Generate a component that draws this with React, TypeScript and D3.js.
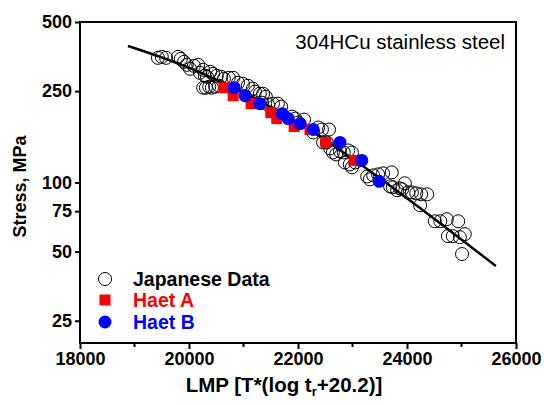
import React, { useEffect, useRef } from 'react';
import * as d3 from 'd3';

// Japanese data (open circles)
const japaneseLmp = [
  19430, 19500, 19580, 19800, 19850, 19910, 19960, 20020, 20090, 20170,
  20200, 20260, 20290, 20330, 20390, 20440, 20510, 20590, 20640, 20730,
  20810, 20260, 20310, 20370, 20420, 20480, 20550, 20900, 20990, 21080,
  21170, 21210, 21300, 21360, 21410, 21170, 21340, 21450, 21540, 21630,
  21690, 21890, 21950, 22000, 22110, 22280, 22370, 22440, 22570, 22460,
  22530, 22590, 22640, 22700, 22770, 22840, 22920, 22990, 22860, 22950,
  23050, 22990, 23270, 23320, 23380, 23470, 23560, 23720, 23690, 23740,
  23820, 23870, 23910, 23960, 24020, 24090, 24170, 24260, 24370, 24240,
  24510, 24610, 24730, 24940, 24750, 24840, 24970, 25060, 25010
];
const japaneseStress = [
  349, 352.5, 349, 352.5, 345.5, 335.4, 325.5, 312.7, 322.2, 325.5,
  300.5, 309.6, 291.6, 288.7, 303.5, 297.5, 291.6, 288.7, 283, 285.8,
  285.8, 258.7, 258.7, 261.3, 258.7, 261.3, 263.9, 271.9, 269.2, 263.9,
  256.1, 248.6, 243.6, 243.6, 236.4, 224.9, 222.7, 218.3, 220.5, 220.5,
  214, 193.6, 189.8, 182.4, 187.9, 165.1, 173.5, 170.1, 170.1, 149.4,
  149.4, 140.7, 135.2, 132.5, 136.5, 135.2, 137.9, 135.2, 122.3, 119.9,
  122.3, 116.4, 106.3, 103.2, 107.4, 108.5, 109.6, 110.7, 96.2, 95.3,
  92.5, 94.3, 93.4, 99.2, 90.6, 90.6, 89.7, 88.8, 88.8, 79.6,
  67.8, 67.8, 69.2, 67.8, 58.4, 58.4, 57.8, 59.6, 48.8
];

// Haet A (red squares)
const haetALmp = [20640, 20810, 21140, 21500, 21610, 21930, 22220, 22510, 23030];
const haetAStress = [258.7, 238.8, 220.5, 201.5, 189.8, 175.2, 170.1, 149.4, 124.8];

// Haet B (blue circles)
const haetBLmp = [20830, 21030, 21300, 21710, 21820, 22040, 22280, 22770, 23170, 23490];
const haetBStress = [258.7, 238.8, 220.5, 199.5, 189.8, 180.6, 170.1, 149.4, 124.8, 101.2];

// fitted curve
const fitLmp = [18880, 20200, 22000, 23870, 25630];
const fitStress = [393, 302, 182, 90, 43.3];

const xTicks = [18000, 20000, 22000, 24000, 26000];
const xMinorTicks = [19000, 21000, 23000, 25000];
const yTicks = [25, 50, 75, 100, 250, 500];

const FONT = '"Liberation Sans", Arial, sans-serif';

export default function App() {
  const svgRef = useRef<SVGSVGElement>(null);

  useEffect(() => {
    const svg = d3.select(svgRef.current);
    svg.selectAll('*').remove();

    const left = 80, right = 516, top = 22, bottom = 343;

    const x = d3.scaleLinear().domain([18000, 26000]).range([left, right]);
    const y = d3.scaleLog().domain([20, 500]).range([bottom, top]);

    // y axis
    const yAxis = svg.append('g')
      .attr('transform', `translate(${left},0)`)
      .call(d3.axisLeft(y).tickValues(yTicks).tickFormat(d3.format('d')).tickSize(5).tickSizeOuter(0).tickPadding(3));
    yAxis.select('.domain').remove();
    yAxis.selectAll('line').attr('stroke', '#000').attr('stroke-width', 2);
    yAxis.selectAll('text')
      .attr('font-family', FONT).attr('font-size', 18).attr('font-weight', 'bold').attr('fill', '#000');

    // x axis
    const xAxis = svg.append('g')
      .attr('transform', `translate(0,${bottom})`)
      .call(d3.axisBottom(x).tickValues(xTicks).tickFormat(d3.format('d')).tickSize(6).tickSizeOuter(0).tickPadding(3));
    xAxis.select('.domain').remove();
    xAxis.selectAll('line').attr('stroke', '#000').attr('stroke-width', 2);
    xAxis.selectAll('text')
      .attr('font-family', FONT).attr('font-size', 18).attr('font-weight', 'bold').attr('fill', '#000');

    svg.append('g')
      .selectAll('line')
      .data(xMinorTicks)
      .enter()
      .append('line')
      .attr('x1', d => x(d)).attr('x2', d => x(d))
      .attr('y1', bottom).attr('y2', bottom + 4)
      .attr('stroke', '#000').attr('stroke-width', 2);

    // frame
    svg.append('rect')
      .attr('x', left).attr('y', top)
      .attr('width', right - left).attr('height', bottom - top)
      .attr('fill', 'none').attr('stroke', '#000').attr('stroke-width', 2);

    // Japanese data
    svg.append('g')
      .selectAll('circle')
      .data(japaneseLmp.map((l, i) => [l, japaneseStress[i]]))
      .enter()
      .append('circle')
      .attr('cx', d => x(d[0])).attr('cy', d => y(d[1]))
      .attr('r', 6.5)
      .attr('fill', 'none').attr('stroke', '#000').attr('stroke-width', 1);

    // fit line
    const line = d3.line<number[]>()
      .x(d => x(d[0])).y(d => y(d[1]))
      .curve(d3.curveNatural);
    svg.append('path')
      .datum(fitLmp.map((l, i) => [l, fitStress[i]]))
      .attr('d', line)
      .attr('fill', 'none').attr('stroke', '#000').attr('stroke-width', 2.5);

    // Haet A
    svg.append('g')
      .selectAll('rect')
      .data(haetALmp.map((l, i) => [l, haetAStress[i]]))
      .enter()
      .append('rect')
      .attr('x', d => x(d[0]) - 5.5).attr('y', d => y(d[1]) - 5.5)
      .attr('width', 11).attr('height', 11)
      .attr('fill', '#ff0000');

    // Haet B
    svg.append('g')
      .selectAll('circle')
      .data(haetBLmp.map((l, i) => [l, haetBStress[i]]))
      .enter()
      .append('circle')
      .attr('cx', d => x(d[0])).attr('cy', d => y(d[1]))
      .attr('r', 6.5)
      .attr('fill', '#0000ff');

    // legend
    const legend = svg.append('g').attr('font-family', FONT).attr('font-size', 19.5).attr('font-weight', 'bold');
    legend.append('circle').attr('cx', 105).attr('cy', 279).attr('r', 6.5)
      .attr('fill', 'none').attr('stroke', '#000').attr('stroke-width', 1);
    legend.append('text').attr('x', 133).attr('y', 279).attr('dy', '0.35em').attr('fill', '#000').text('Japanese Data');
    legend.append('rect').attr('x', 99.5).attr('y', 294.5).attr('width', 11).attr('height', 11).attr('fill', '#ff0000');
    legend.append('text').attr('x', 133).attr('y', 300).attr('dy', '0.35em').attr('fill', '#ff0000').text('Haet A');
    legend.append('circle').attr('cx', 105).attr('cy', 322).attr('r', 6.5).attr('fill', '#0000ff');
    legend.append('text').attr('x', 133).attr('y', 322).attr('dy', '0.35em').attr('fill', '#0000ff').text('Haet B');

    // annotation
    svg.append('text')
      .attr('x', 505).attr('y', 42).attr('dy', '0.35em')
      .attr('text-anchor', 'end')
      .attr('font-family', FONT).attr('font-size', 20.5)
      .attr('fill', '#000')
      .text('304HCu stainless steel');

    // axis titles
    const xt = svg.append('text')
      .attr('x', 284).attr('y', 385).attr('dy', '0.35em')
      .attr('text-anchor', 'middle')
      .attr('font-family', FONT).attr('font-size', 20.5).attr('font-weight', 'bold')
      .attr('fill', '#000');
    xt.append('tspan').text('LMP [T*(log t');
    xt.append('tspan').attr('font-size', 13).attr('dy', 4).text('r');
    xt.append('tspan').attr('dy', -4).text('+20.2)]');

    svg.append('text')
      .attr('transform', `translate(20,${(top + bottom) / 2 + 4}) rotate(-90)`)
      .attr('dy', '0.35em')
      .attr('text-anchor', 'middle')
      .attr('font-family', FONT).attr('font-size', 18).attr('font-weight', 'bold')
      .attr('fill', '#000')
      .text('Stress, MPa');
  }, []);

  return (
    <svg
      ref={svgRef}
      width={544}
      height={405}
      style={{ position: 'absolute', left: 0, top: 0, background: '#fff' }}
    />
  );
}
